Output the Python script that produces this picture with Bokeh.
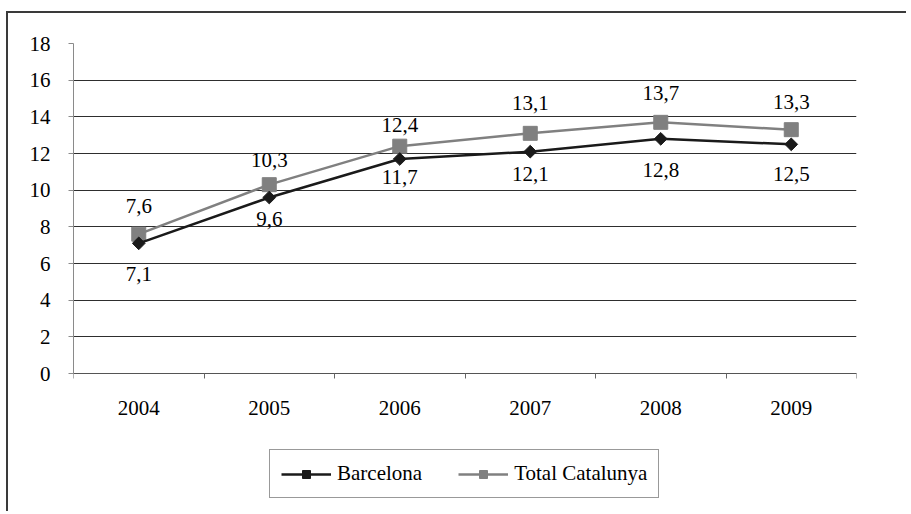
from bokeh.plotting import figure
from bokeh.models import ColumnDataSource, FixedTicker, LabelSet, Legend, LegendItem, Range1d
from bokeh.core.properties import value
from bokeh.embed import file_html
from bokeh.resources import INLINE

# ---- data ----
years = ["2004", "2005", "2006", "2007", "2008", "2009"]
barcelona = [7.1, 9.6, 11.7, 12.1, 12.8, 12.5]
catalunya = [7.6, 10.3, 12.4, 13.1, 13.7, 13.3]
y_ticks = [0, 2, 4, 6, 8, 10, 12, 14, 16, 18]

# ---- label placement (style, pixels) ----
bcn_label_dy = [-31, -21, -18, -22, -31, -30]
cat_label_dy = [28, 25, 21, 30, 29, 28]

FONT = "Liberation Serif"
FS = "21px"
BLACK = "#1a1a1a"
GRAY = "#808080"

# layout (pixels)
W, H = 900, 500
TOP, LEFT, RIGHT, BOTTOM = 30, 65, 52, 10
AXIS_H = 330              # pixel height of the 0..18 value axis
below_px = H - TOP - BOTTOM - AXIS_H   # room under the zero line for labels + legend
y_lo = y_ticks[0] - below_px * (y_ticks[-1] - y_ticks[0]) / AXIS_H

xs = [i + 0.5 for i in range(len(years))]

def fmt(v):
    return f"{v:.1f}".replace(".", ",")

src_b = ColumnDataSource(dict(x=xs, y=barcelona, t=[fmt(v) for v in barcelona], dy=bcn_label_dy))
src_c = ColumnDataSource(dict(x=xs, y=catalunya, t=[fmt(v) for v in catalunya], dy=cat_label_dy))

p = figure(width=W, height=H,
           x_range=Range1d(0, len(years)), y_range=Range1d(y_lo, y_ticks[-1]),
           output_backend="svg", toolbar_location=None,
           min_border_left=LEFT, min_border_right=RIGHT, min_border_top=TOP, min_border_bottom=BOTTOM,
           styles={"border-left": "2px solid #3a3a3a", "border-top": "2px solid #3a3a3a",
                   "margin-left": "6px", "margin-top": "11px"})
p.outline_line_color = None
p.background_fill_color = "white"
p.border_fill_color = "white"

# grid
p.xgrid.visible = False
p.yaxis.ticker = FixedTicker(ticks=y_ticks)
p.ygrid.grid_line_color = "#2e2e2e"
p.ygrid.grid_line_width = 1

# y axis
p.yaxis.bounds = (y_ticks[0], y_ticks[-1])
p.yaxis.axis_line_color = "#8a8a8a"
p.yaxis.major_tick_line_color = "#8a8a8a"
p.yaxis.major_tick_out = 5
p.yaxis.major_tick_in = 0
p.yaxis.minor_tick_line_color = None
p.yaxis.major_label_standoff = 18
p.yaxis.major_label_text_font = FONT
p.yaxis.major_label_text_font_size = FS
p.yaxis.major_label_text_color = "black"

# x axis (drawn on the zero line)
p.xaxis.fixed_location = y_ticks[0]
p.xaxis.ticker = FixedTicker(ticks=xs, minor_ticks=list(range(len(years) + 1)))
p.xaxis.major_label_overrides = {x: y for x, y in zip(xs, years)}
p.xaxis.axis_line_color = "#555555"
p.xaxis.major_tick_line_color = None
p.xaxis.major_tick_out = 0
p.xaxis.major_tick_in = 0
p.xaxis.minor_tick_line_color = "#666666"
p.xaxis.minor_tick_out = 5
p.xaxis.minor_tick_in = 0
p.xaxis.major_label_standoff = 22
p.xaxis.major_label_text_font = FONT
p.xaxis.major_label_text_font_size = FS
p.xaxis.major_label_text_color = "black"

# series
lc = p.line("x", "y", source=src_c, line_color=GRAY, line_width=2.5)
sc = p.scatter("x", "y", source=src_c, marker="square", size=14, fill_color=GRAY, line_color=GRAY)
lb = p.line("x", "y", source=src_b, line_color=BLACK, line_width=2.5)
sb = p.scatter("x", "y", source=src_b, marker="square", angle=0.785398, size=9,
               fill_color=BLACK, line_color=BLACK)

# data labels
for src in (src_b, src_c):
    p.add_layout(LabelSet(x="x", y="y", text="t", source=src, y_offset="dy",
                          text_align="center", text_baseline="middle",
                          text_font=value(FONT), text_font_size=FS, text_color="black"))

legend = Legend(items=[LegendItem(label="Barcelona", renderers=[lb, sb]),
                       LegendItem(label="Total Catalunya", renderers=[lc, sc])],
                orientation="horizontal", location=(196, 5),
                glyph_width=50, glyph_height=20, label_height=20, label_standoff=6,
                spacing=36, padding=11, margin=0,
                label_text_font=FONT, label_text_font_size=FS, label_text_color="black",
                border_line_color="#333333", border_line_width=1,
                background_fill_color="white", background_fill_alpha=1)
p.add_layout(legend, "center")

open("out.html", "w").write(file_html(p, INLINE))
